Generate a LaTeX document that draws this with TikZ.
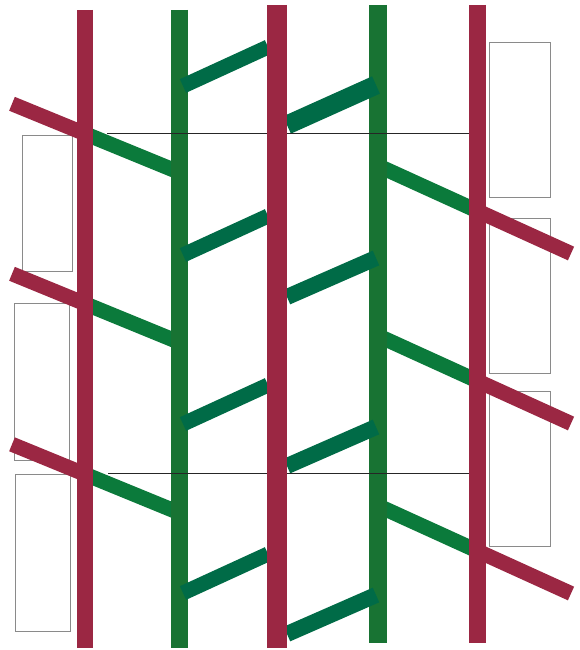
\documentclass[tikz,border=0pt]{standalone}
\usepackage{tikz}
\usetikzlibrary{positioning}
\definecolor{cRed}{HTML}{9B2743}
\definecolor{cGreen}{HTML}{187333}
\definecolor{cLeaf}{HTML}{0B7A3B}
\definecolor{cTeal}{HTML}{006B47}
\definecolor{cFrame}{HTML}{8A8A8A}
\tikzset{
  redbar/.style  ={draw=cRed, line width=17pt, line cap=butt},
  greenbar/.style={draw=cGreen, line width=17pt, line cap=butt},
  reddiag/.style ={draw=cRed, line width=15pt, line cap=butt},
  leafdiag/.style={draw=cLeaf, line width=15pt, line cap=butt},
  rung/.style    ={draw=cTeal, line width=15pt, line cap=butt},
  box/.style     ={draw=cFrame, line width=0.8pt},
  rule/.style    ={draw=black!85, line width=1.2pt},
}

\begin{document}
\begin{tikzpicture}[x=1pt, y=-1pt]
  \useasboundingbox (0,0) rectangle (579,650);
  % frames
  \draw[box] (22,135) rectangle (72,271);
  \draw[box] (14,303) rectangle (69,460);
  \draw[box] (15,474) rectangle (70,631);
  \draw[box] (489,42)  rectangle (550,197);
  \draw[box] (489,218) rectangle (550,373);
  \draw[box] (489,391) rectangle (550,546);
  % side branches
  \foreach \b in {133.5,303.5,474}{
    \coordinate (lend) at (12,\b-29.7);
    \coordinate (lmid) at (84.5,\b);
    \coordinate (lgrn) at (176,\b+37.5);
    \draw[reddiag]  (lend) -- (lmid);
    \draw[leafdiag] (lmid) -- (lgrn);
  }
  \foreach \a in {168,338,508}{
    \coordinate (rgrn) at (383,\a);
    \coordinate (rmid) at (477.5,\a+43);
    \coordinate (rend) at (571,\a+85.5);
    \draw[leafdiag] (rgrn) -- (rmid);
    \draw[reddiag]  (rmid) -- (rend);
  }
  % green strands
  \draw[greenbar] (179,10) -- (179,648);
  \draw[greenbar, line width=18pt] (378,5) -- (378,643);
  % rungs
  \foreach \y in {86,255,424,593}
    \draw[rung] (183,\y) -- (268,\y-39);
  \draw[rung, line width=19pt] (287,125) -- (376,85);
  \foreach \y in {297,466,634}
    \draw[rung, line width=16pt] (287,\y) -- (376,\y-39);
  \draw[rule] (107,133.5) -- (470,133.5);
  \draw[rule] (108,473.5) -- (469,473.5);
  % red strands
  \draw[redbar, line width=16pt] (84.5,10) -- (84.5,648);
  \draw[redbar, line width=20pt] (277,5) -- (277,648);
  \draw[redbar] (477.5,5) -- (477.5,643);
\end{tikzpicture}
\end{document}
